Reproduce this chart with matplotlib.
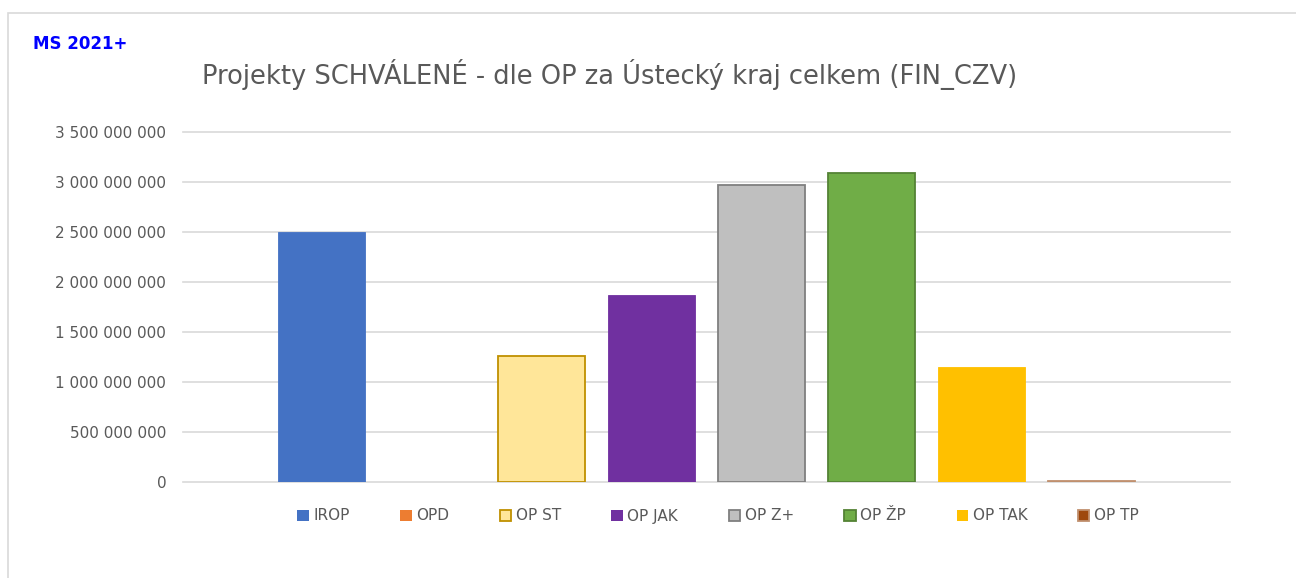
import matplotlib
matplotlib.use("Agg")
import matplotlib.pyplot as plt
from matplotlib.patches import Rectangle
from matplotlib.ticker import FuncFormatter

series = ["IROP", "OPD", "OP ST", "OP JAK", "OP Z+", "OP ŽP", "OP TAK", "OP TP"]
values = [2.5e9, 0, 1.263e9, 1.867e9, 2.97e9, 3.09e9, 1.147e9, 0.015e9]
fills = ["#4472C4", "#ED7D31", "#FFE699", "#7030A0", "#BFBFBF", "#70AD47", "#FFC000", "#9E480E"]
edges = ["#4472C4", "#ED7D31", "#BF9000", "#7030A0", "#7F7F7F", "#548235", "#FFC000", "#C0906E"]
yticks = [0, 5e8, 1e9, 1.5e9, 2e9, 2.5e9, 3e9, 3.5e9]

plt.rcParams['font.family'] = ['DejaVu Sans']
W, H = 1296, 578
fig = plt.figure(figsize=(W / 100, H / 100), dpi=100)
fig.patch.set_facecolor("white")

# outer frame
fig.add_artist(Rectangle((8 / W, -0.1), 1.2, 1.1 - 13 / H, transform=fig.transFigure,
                         fill=False, edgecolor="#D9D9D9", linewidth=1.2))

ax = fig.add_axes([183 / W, 1 - 482 / H, (1230 - 183) / W, (482 - 132) / H])
for i, (v, fc, ec) in enumerate(zip(values, fills, edges)):
    lw = 1.3 if fc != ec else 0.6
    ax.bar(i, v, width=0.79, color=fc, edgecolor=ec, linewidth=lw, zorder=3)

ax.set_xlim(-1.259, 8.259)
ax.set_ylim(0, 3.5e9)
ax.set_yticks(yticks)
ax.yaxis.set_major_formatter(FuncFormatter(lambda v, p: f"{int(v):,}".replace(",", " ")))
ax.set_xticks([])
ax.grid(axis="y", color="#D9D9D9", linewidth=1.2, zorder=0)
for gl in ax.get_ygridlines():
    gl.set_clip_on(False)
for s in ax.spines.values():
    s.set_visible(False)
ax.tick_params(axis="y", length=0, pad=12, labelsize=11, labelcolor="#595959")

handles = [Rectangle((0, 0), 1, 1, facecolor=fc, edgecolor=ec, linewidth=1.3 if fc != ec else 0)
           for fc, ec in zip(fills, edges)]
leg = fig.legend(handles, series, loc="center", bbox_to_anchor=(718 / W, 1 - 516 / H), ncol=8,
                 frameon=False, fontsize=11, handlelength=0.75, handleheight=0.75,
                 handletextpad=0.3, columnspacing=3.3)
for t in leg.get_texts():
    t.set_color("#595959")

fig.text(610 / W, 1 - 75 / H, "Projekty SCHVÁLENÉ - dle OP za Ústecký kraj celkem (FIN_CZV)",
         ha="center", va="center", fontsize=18.5, color="#595959")
fig.text(33 / W, 1 - 44 / H, "MS 2021+", ha="left", va="center", fontsize=12,
         fontweight="bold", color="#0000FF")

fig.savefig("out.png", dpi=100, facecolor="white")
